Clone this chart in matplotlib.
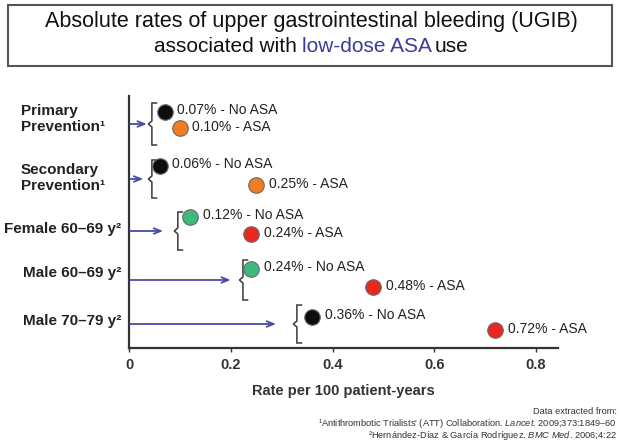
import numpy as np
import matplotlib
matplotlib.use("Agg")
import matplotlib.pyplot as plt
from matplotlib.patches import Rectangle

plt.rcParams["font.family"] = ["Liberation Sans", "DejaVu Sans"]
plt.rcParams["mathtext.fontset"] = "custom"
plt.rcParams["mathtext.it"] = "Liberation Sans:italic"
plt.rcParams["mathtext.rm"] = "Liberation Sans"

# data
groups = ["Primary\nPrevention\u00b9", "Secondary\nPrevention\u00b9", "Female 60\u201369 y\u00b2",
          "Male 60\u201369 y\u00b2", "Male 70\u201379 y\u00b2"]
no_asa = [0.07, 0.06, 0.12, 0.24, 0.36]
asa = [0.10, 0.25, 0.24, 0.48, 0.72]
no_asa_colors = ["#0d0d0d", "#0d0d0d", "#3dba7c", "#3dba7c", "#0d0d0d"]
asa_colors = ["#f07d22", "#f07d22", "#e8271f", "#e8271f", "#e8271f"]
xticks = [0, 0.2, 0.4, 0.6, 0.8]
xtick_labels = ["0", "0.2", "0.4", "0.6", "0.8"]

# layout (vertical positions in pixel rows of the picture)
row_y = [124, 179, 231, 280, 324]
no_asa_y = [112, 166, 217, 269, 317]
asa_y = [128, 185, 234, 287, 330]
label_y = [119, 178, 229, 273, 321]
arrow_end = [0.035, 0.028, 0.067, 0.20, 0.289]
bracket_x = [0.045, 0.045, 0.096, 0.224, 0.330]
bracket_half = [21, 19, 19, 20, 19]

W, H = 622, 447
fig = plt.figure(figsize=(W / 100, H / 100), dpi=100)


def fx(x):
    return x / W


def fy(y):
    return 1 - y / H


x0, x1, ytop, ybot = 129, 558, 96, 348
ax = fig.add_axes([fx(x0), fy(ybot), (x1 - x0) / W, (ybot - ytop) / H])
ax.set_xlim(0, (x1 - x0) / 508.75)
ax.set_ylim(ybot, ytop)
for s in ["top", "right"]:
    ax.spines[s].set_visible(False)
for s in ["left", "bottom"]:
    ax.spines[s].set_color("#333333")
    ax.spines[s].set_linewidth(1.6)
ax.set_yticks([])
ax.set_xticks(xticks)
ax.set_xticklabels(xtick_labels, fontsize=10.5, fontweight="bold", color="#333333")
ax.tick_params(axis="x", length=3, width=1, color="#333333", pad=4)
ax.set_xlabel("Rate per 100 patient-years", fontsize=10.5, fontweight="bold",
              color="#333333", labelpad=9)

arrow_col = "#4a4aa8"
for i in range(len(groups)):
    y = row_y[i]
    ax.annotate("", xy=(arrow_end[i], y), xytext=(0.002, y),
                arrowprops=dict(arrowstyle="->,head_length=0.5,head_width=0.2",
                                color=arrow_col, lw=1.3, shrinkA=0, shrinkB=0))
    bx = bracket_x[i]
    h = bracket_half[i]
    ax.plot([bx + 0.009, bx, bx, bx - 0.007, bx, bx, bx + 0.009],
            [y - h, y - h, y - 3, y, y + 3, y + h, y + h],
            color="#3a3a3a", lw=1.1, solid_joinstyle="miter", clip_on=False)
    ax.scatter([no_asa[i]], [no_asa_y[i]], s=125, color=no_asa_colors[i],
               edgecolor="#6a6a6a", linewidth=0.8, zorder=5, clip_on=False)
    ax.scatter([asa[i]], [asa_y[i]], s=125, color=asa_colors[i],
               edgecolor="#6a6a6a", linewidth=0.8, zorder=5, clip_on=False)
    ax.annotate(f"{no_asa[i]:.2f}% - No ASA", (no_asa[i], no_asa_y[i]),
                xytext=(9, 1.5), textcoords="offset points", va="center",
                fontsize=10, color="#222222")
    ax.annotate(f"{asa[i]:.2f}% - ASA", (asa[i], asa_y[i]),
                xytext=(9, 1), textcoords="offset points", va="center",
                fontsize=10, color="#222222")
    if "\n" in groups[i]:
        fig.text(fx(21), fy(label_y[i]), groups[i], ha="left", va="center",
                 fontsize=11, fontweight="bold", color="#222222", linespacing=1.2)
    else:
        fig.text(fx(121), fy(label_y[i]), groups[i], ha="right", va="center",
                 fontsize=11, fontweight="bold", color="#222222")

# title box
fig.patches.append(Rectangle((fx(8), fy(66)), fx(604), 61 / H, transform=fig.transFigure,
                             fill=False, edgecolor="#555555", linewidth=1.5))
fig.text(fx(311), fy(22), "Absolute rates of upper gastrointestinal bleeding (UGIB)",
         ha="center", va="center", fontsize=15.5, color="#111111")

# second title line with coloured part
pieces = [("associated with ", "#111111"), ("low-dose ASA", "#3b3b9a"), ("use", "#111111")]
r = fig.canvas.get_renderer()
tmp = [fig.text(0, 0, p, fontsize=15) for p, _ in pieces]
widths = [t.get_window_extent(r).width for t in tmp]
for t in tmp:
    t.remove()
widths[1] += 2
xs = 311 - sum(widths) / 2
for (p, c), w in zip(pieces, widths):
    fig.text(fx(xs), fy(46), p, ha="left", va="center", fontsize=15, color=c)
    xs += w

# footnotes
fn = dict(ha="right", va="center", fontsize=6.7, color="#333333")
fig.text(fx(617), fy(411), "Data extracted from:", **fn)
fig.text(fx(617), fy(423), "\u00b9Antithrombotic Trialists' (ATT) Collaboration. $\\it{Lancet}$. 2009;373:1849\u201360", **fn)
fig.text(fx(617), fy(435), "\u00b2Hern\u00e1ndez-D\u00edaz & Garc\u00eda Rodr\u00edguez. $\\it{BMC\\ Med}$. 2006;4:22", **fn)

fig.savefig("out.png", dpi=100)
